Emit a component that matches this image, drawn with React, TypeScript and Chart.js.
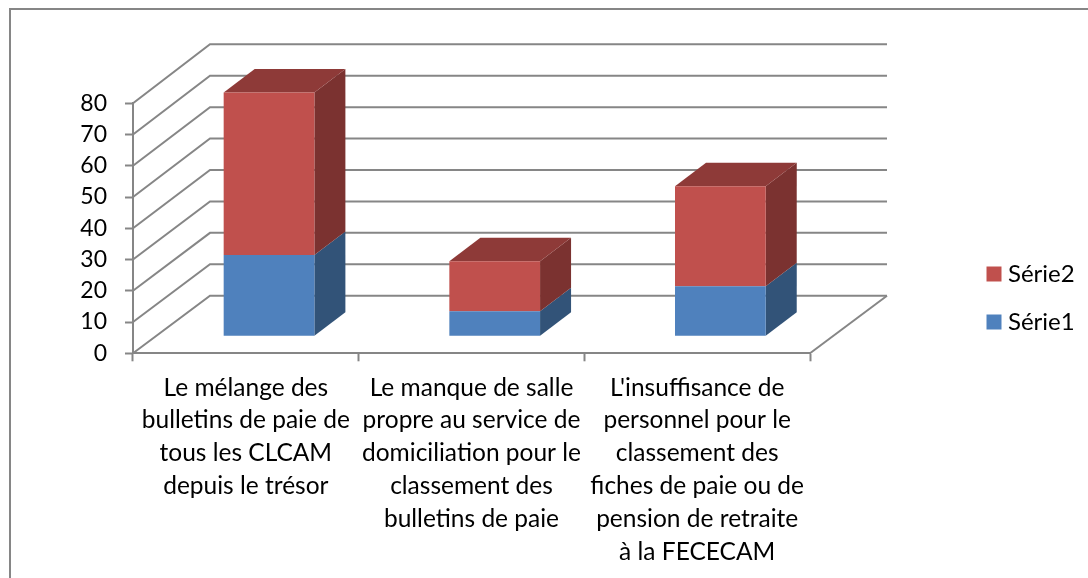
import React, { useEffect, useRef } from "react";
import { Chart, registerables } from "chart.js";

Chart.register(...registerables);

const categories: string[][] = [
  ["Le mélange des", "bulletins de paie de", "tous les CLCAM", "depuis le trésor"],
  ["Le manque de salle", "propre au service de", "domiciliation pour le", "classement des", "bulletins de paie"],
  ["L'insuffisance de", "personnel pour le", "classement des", "fiches de paie ou de", "pension de retraite", "à la FECECAM"],
];
const serie1 = [26, 8, 16];
const serie2 = [52, 16, 32];
const yTicks = { min: 0, max: 80, step: 10 };

const GREY = "#868686";
const FONT = "Lato";
const WALL = { dx: 77, dy: -57.6, stretch: 1.0056 };
const BAR = { dx: 23.2, dy: -17, depthX: 31, depthY: -23.5 };
const SIDE = ["#325378", "#7B3230"];
const TOP = "#8E3A38";

const poly = (ctx: CanvasRenderingContext2D, pts: number[][], fill: string) => {
  ctx.beginPath();
  pts.forEach((p, i) => (i ? ctx.lineTo(p[0], p[1]) : ctx.moveTo(p[0], p[1])));
  ctx.closePath();
  ctx.fillStyle = fill;
  ctx.fill();
};

const frame3d = {
  id: "frame3d",
  beforeDraw(chart: any) {
    const ctx = chart.ctx as CanvasRenderingContext2D;
    ctx.save();
    ctx.fillStyle = "#fff";
    ctx.fillRect(0, 0, chart.width, chart.height);
    ctx.strokeStyle = GREY;
    ctx.lineWidth = 2;
    ctx.beginPath();
    ctx.moveTo(10, chart.height);
    ctx.lineTo(10, 9);
    ctx.lineTo(chart.width, 9);
    ctx.stroke();
    ctx.restore();
  },
  afterLayout(chart: any) {
    const l = chart.legend;
    if (l) {
      l.left = 968;
      l.right = 1088;
      l.top = 238;
      l.bottom = 578;
      l.width = 120;
      l.height = 340;
    }
  },
  beforeDatasetsDraw(chart: any) {
    const ctx = chart.ctx as CanvasRenderingContext2D;
    const { left, right } = chart.chartArea;
    const y0 = chart.scales.y.getPixelForValue(0);
    ctx.save();
    ctx.strokeStyle = GREY;
    ctx.lineWidth = 2;
    chart.scales.y.ticks.forEach((t: any) => {
      const y = chart.scales.y.getPixelForValue(t.value);
      const by = y0 + WALL.dy + (y - y0) * WALL.stretch;
      ctx.beginPath();
      ctx.moveTo(left, y);
      ctx.lineTo(left + WALL.dx, by);
      ctx.lineTo(right + WALL.dx, by);
      ctx.stroke();
    });
    ctx.beginPath();
    ctx.moveTo(right + WALL.dx, y0 + WALL.dy);
    ctx.lineTo(right, y0);
    ctx.stroke();
    ctx.restore();

    ctx.save();
    ctx.translate(BAR.dx, BAR.dy);
    const n = chart.data.datasets.length;
    for (let d = 0; d < n; d++) {
      chart.getDatasetMeta(d).data.forEach((el: any) => {
        const p = el.getProps(["x", "y", "base", "width"], true);
        const xr = p.x + p.width / 2;
        const xl = p.x - p.width / 2;
        poly(ctx, [[xr, p.y], [xr + BAR.depthX, p.y + BAR.depthY], [xr + BAR.depthX, p.base + BAR.depthY], [xr, p.base]], SIDE[d]);
        if (d === n - 1) {
          poly(ctx, [[xl, p.y], [xl + BAR.depthX, p.y + BAR.depthY], [xr + BAR.depthX, p.y + BAR.depthY], [xr, p.y]], TOP);
        }
      });
    }
    ctx.restore();
    ctx.save();
    ctx.translate(BAR.dx, BAR.dy);
  },
  afterDatasetsDraw(chart: any) {
    chart.ctx.restore();
  },
};

export default function App() {
  const ref = useRef<HTMLCanvasElement>(null);
  useEffect(() => {
    const chart: any = new Chart(ref.current!, {
      type: "bar",
      data: {
        labels: categories,
        datasets: [
          { label: "Série1", data: serie1, backgroundColor: "#4F81BD", borderWidth: 0, clip: false },
          { label: "Série2", data: serie2, backgroundColor: "#C0504D", borderWidth: 0, clip: false },
        ],
      } as any,
      options: {
        responsive: false,
        animation: false,
        events: [],
        layout: { padding: { top: 103.3, left: 0, right: 278, bottom: 0 } },
        datasets: { bar: { categoryPercentage: 1, barPercentage: 0.402 } },
        plugins: {
          title: { display: false },
          tooltip: { enabled: false },
          legend: {
            display: true,
            position: "chartArea",
            reverse: true,
            align: "start",
            labels: {
              boxWidth: 4,
              boxHeight: 4,
              padding: 24,
              color: "#000",
              font: { family: FONT, size: 24 },
              generateLabels: (c: any) =>
                Chart.defaults.plugins.legend.labels.generateLabels(c).map((item: any) => ({
                  ...item,
                  lineWidth: 11,
                  strokeStyle: item.fillStyle,
                })),
            },
          },
        },
        scales: {
          x: {
            stacked: true,
            border: { color: GREY, width: 2 },
            grid: { display: true, offset: true, drawOnChartArea: false, drawTicks: true, tickLength: 8, tickWidth: 2, tickColor: GREY, color: GREY },
            ticks: {
              autoSkip: false,
              maxRotation: 0,
              minRotation: 0,
              padding: 10,
              color: "#000",
              font: { family: FONT, size: 24.5, lineHeight: "32.8px" },
            },
            afterFit: (s: any) => { s.height = 578 - 353.3; },
          },
          y: {
            stacked: true,
            min: yTicks.min,
            max: yTicks.max,
            border: { color: GREY, width: 2 },
            grid: { display: true, drawOnChartArea: false, drawTicks: true, tickLength: 8, tickWidth: 2, tickColor: GREY, color: GREY },
            ticks: {
              stepSize: yTicks.step,
              autoSkip: false,
              padding: 18,
              color: "#000",
              font: { family: FONT, size: 23, lineHeight: 1 },
            },
            afterFit: (s: any) => { s.width = 133; },
          },
        },
      } as any,
      plugins: [frame3d],
    });
    return () => chart.destroy();
  }, []);
  return (
    <div style={{ position: "fixed", left: 0, top: 0, width: 1088, height: 578, background: "#fff" }}>
      <canvas ref={ref} width={1088} height={578} style={{ display: "block" }} />
    </div>
  );
}
